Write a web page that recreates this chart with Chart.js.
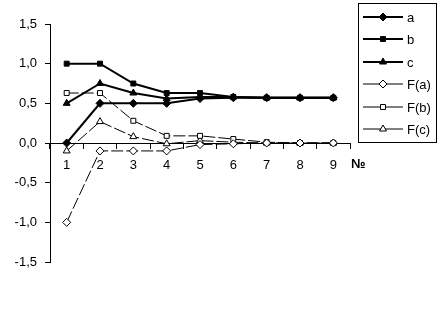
<!DOCTYPE html>
<html>
<head>
<meta charset="utf-8">
<script src="https://cdn.jsdelivr.net/npm/chart.js@4/dist/chart.umd.min.js"></script>
<style>
  html, body { margin: 0; padding: 0; background: #fff; }
  #wrap { width: 441px; height: 316px; }
</style>
</head>
<body>
<div id="wrap"><canvas id="chart"></canvas></div>
<script>
// valeurs
const steps = ['1', '2', '3', '4', '5', '6', '7', '8', '9'];
const serieA = [0, 0.5, 0.5, 0.5, 0.56, 0.57, 0.57, 0.57, 0.57];
const serieB = [1.0, 1.0, 0.75, 0.63, 0.63, 0.58, 0.57, 0.57, 0.57];
const serieC = [0.5, 0.75, 0.63, 0.56, 0.58, 0.58, 0.57, 0.57, 0.57];
const serieFa = [-1.0, -0.1, -0.1, -0.1, -0.02, -0.01, 0, 0, 0];
const serieFb = [0.63, 0.63, 0.28, 0.09, 0.09, 0.05, 0.01, 0, 0];
const serieFc = [-0.1, 0.27, 0.08, -0.01, 0.03, 0.01, 0, 0, 0];
const yTicks = [-1.5, -1.0, -0.5, 0, 0.5, 1.0, 1.5];

const font = { family: 'Liberation Sans, Arial, sans-serif', size: 13 };

function heavy(label, data, style) {
  return {
    label, data,
    borderColor: '#000', backgroundColor: '#000', borderWidth: 2,
    pointStyle: style, pointRadius: style === 'rect' ? 3.5 : 4,
    pointBorderWidth: 1, pointBackgroundColor: '#000', pointBorderColor: '#000',
    tension: 0,
  };
}
function light(label, data, style) {
  return {
    label, data,
    borderColor: '#000', backgroundColor: '#fff', borderWidth: 1,
    borderDash: [12, 3],
    pointStyle: style, pointRadius: style === 'rect' ? 3.5 : 4,
    pointBorderWidth: 1, pointBackgroundColor: '#fff', pointBorderColor: '#000',
    tension: 0,
  };
}

// Légende encadrée à droite + symbole №
const boxLegend = {
  id: 'boxLegend',
  afterDraw(chart) {
    const ctx = chart.ctx;
    ctx.save();
    ctx.strokeStyle = '#000';
    ctx.lineWidth = 1;
    ctx.strokeRect(358.5, 3.5, 78, 139);
    const rows = [17, 39, 62, 84, 107, 129];
    chart.data.datasets.forEach((ds, i) => {
      const y = rows[i];
      ctx.setLineDash([]);
      ctx.lineWidth = ds.borderWidth;
      ctx.strokeStyle = '#000';
      ctx.beginPath();
      ctx.moveTo(363, y);
      ctx.lineTo(403, y);
      ctx.stroke();
      ctx.fillStyle = ds.pointBackgroundColor;
      ctx.strokeStyle = '#000';
      ctx.lineWidth = 1;
      Chart.helpers.drawPoint(ctx, {
        pointStyle: ds.pointStyle, radius: ds.pointRadius, borderWidth: 1, rotation: 0
      }, 383, y);
      ctx.fillStyle = '#000';
      ctx.font = '13px ' + font.family;
      ctx.textBaseline = 'middle';
      ctx.textAlign = 'left';
      ctx.fillText(ds.label, 407, y + 1);
    });
    ctx.font = 'bold 13px ' + font.family;
    ctx.textBaseline = 'middle';
    ctx.fillText('№', 351, 164);
    ctx.restore();
  }
};

new Chart(document.getElementById('chart'), {
  type: 'line',
  data: {
    labels: steps,
    datasets: [
      heavy('a', serieA, 'rectRot'),
      heavy('b', serieB, 'rect'),
      heavy('c', serieC, 'triangle'),
      light('F(a)', serieFa, 'rectRot'),
      light('F(b)', serieFb, 'rect'),
      light('F(c)', serieFc, 'triangle'),
    ],
  },
  options: {
    responsive: true,
    maintainAspectRatio: false,
    animation: false,
    devicePixelRatio: 1,
    layout: { padding: { left: 0, right: 91, top: 24, bottom: 54 } },
    plugins: { legend: { display: false }, tooltip: { enabled: false } },
    scales: {
      x: {
        type: 'category',
        position: { y: 0 },
        offset: true,
        grid: { offset: true, drawOnChartArea: false, drawTicks: true, tickLength: 5, color: '#000' },
        border: { display: true, color: '#000', width: 1, dash: [3, 3] },
        ticks: { color: '#000', font, padding: 10, maxRotation: 0 },
      },
      y: {
        min: -1.5, max: 1.5,
        afterFit(scale) { scale.width = 50; },
        afterBuildTicks(scale) { scale.ticks = yTicks.map(v => ({ value: v })); },
        grid: { drawOnChartArea: false, tickLength: 5, color: '#000' },
        border: { display: true, color: '#000', width: 1 },
        ticks: {
          color: '#000', font, padding: 8,
          callback: v => v.toFixed(1).replace('.', ','),
        },
      },
    },
  },
  plugins: [boxLegend],
});
</script>
</body>
</html>
